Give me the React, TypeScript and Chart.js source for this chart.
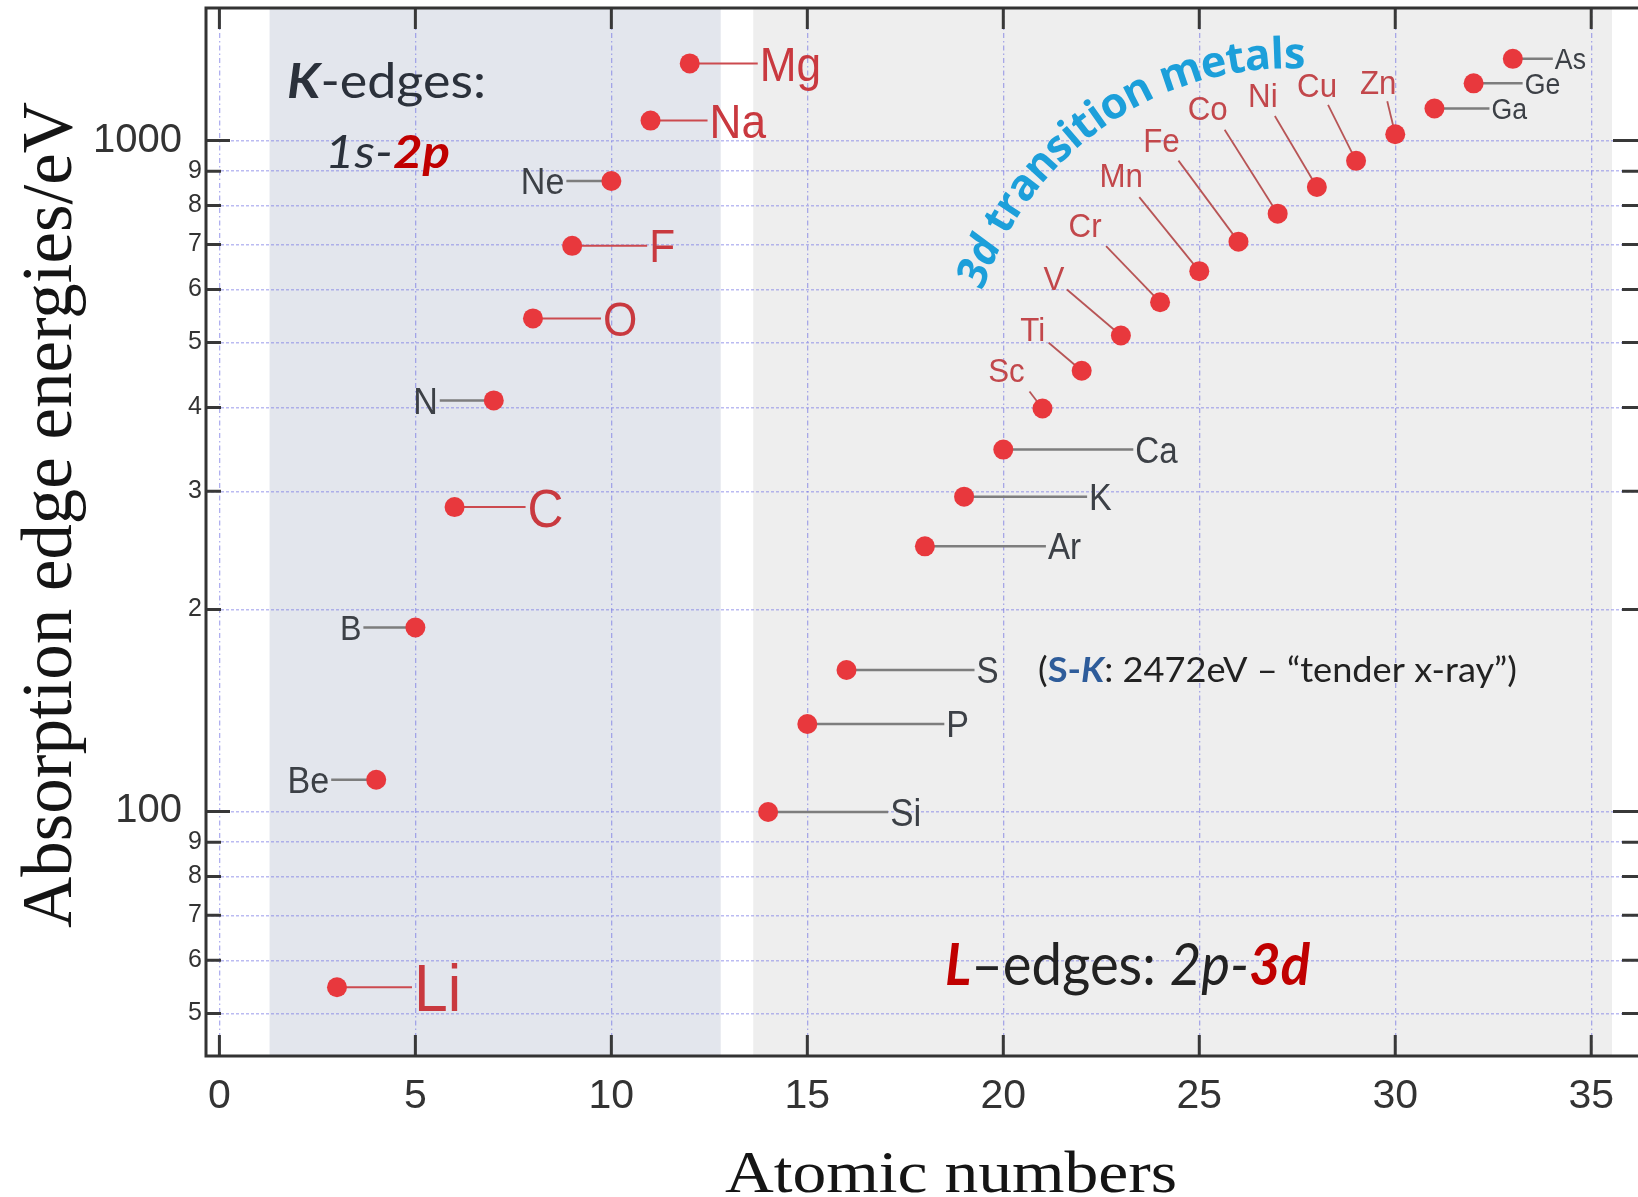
import React, { useEffect, useRef } from "react";
import { Chart, registerables } from "chart.js";

Chart.register(...registerables);

// ---------------- data ----------------
const K_SYMBOLS = ["Li", "Be", "B", "C", "N", "O", "F", "Ne", "Na", "Mg"];
const K_Z = [3, 4, 5, 6, 7, 8, 9, 10, 11, 12];
const K_EV = [54.7, 111.5, 188, 284.2, 409.9, 543.1, 696.7, 870.2, 1070.8, 1303];

const L_SYMBOLS = ["Si", "P", "S", "Ar", "K", "Ca", "Sc", "Ti", "V", "Cr", "Mn", "Fe", "Co", "Ni", "Cu", "Zn", "Ga", "Ge", "As"];
const L_Z = [14, 15, 16, 18, 19, 20, 21, 22, 23, 24, 25, 26, 27, 28, 29, 30, 31, 32, 33];
const L_EV = [99.8, 135, 162.5, 248.4, 294.6, 346.2, 398.7, 453.8, 512.1, 574.1, 638.7, 706.8, 778.1, 852.7, 932.7, 1021.8, 1116.4, 1217, 1323.6];

const X_TICKS = [0, 5, 10, 15, 20, 25, 30, 35];
const Y_TICKS = [50, 60, 70, 80, 90, 100, 200, 300, 400, 500, 600, 700, 800, 900, 1000];
const Y_MAJOR_TICKS = [100, 1000];

const X_LIMITS = [-0.342, 36.27];
const Y_LIMITS = [43.2, 1576];
const K_BAND = [1.28, 12.79];
const L_BAND = [13.62, 35.53];

const X_TITLE = "Atomic numbers";
const Y_TITLE = "Absorption edge energies/eV";

// ---------------- label layout (styles / offsets, px) ----------------
type LabelStyle = {
  side: "right" | "left" | "diag";
  len?: number;
  dx?: number;
  dy?: number;
  lx?: number;
  ly?: number;
  size: number;
  tone: "red" | "gray" | "diag";
};

const LABEL_LAYOUT: Record<string, LabelStyle> = {
  Li: { side: "right", len: 75, size: 66, tone: "red" },
  Be: { side: "left", len: 45, size: 37, tone: "gray" },
  B: { side: "left", len: 52, size: 35, tone: "gray" },
  C: { side: "right", len: 71, size: 54, tone: "red" },
  N: { side: "left", len: 54, size: 37, tone: "gray" },
  O: { side: "right", len: 68, size: 48, tone: "red" },
  F: { side: "right", len: 75, size: 46, tone: "red" },
  Ne: { side: "left", len: 45, size: 37, tone: "gray" },
  Na: { side: "right", len: 57, size: 48, tone: "red" },
  Mg: { side: "right", len: 68, size: 48, tone: "red" },
  Si: { side: "right", len: 120, size: 38, tone: "gray" },
  P: { side: "right", len: 137, size: 37, tone: "gray" },
  S: { side: "right", len: 128, size: 36, tone: "gray" },
  Ar: { side: "right", len: 121, size: 36, tone: "gray" },
  K: { side: "right", len: 123, size: 37, tone: "gray" },
  Ca: { side: "right", len: 130, size: 36, tone: "gray" },
  Sc: { side: "diag", dx: -36, dy: -39, lx: -13, ly: -17, size: 34, tone: "diag" },
  Ti: { side: "diag", dx: -49, dy: -42, lx: -33, ly: -28, size: 34, tone: "diag" },
  V: { side: "diag", dx: -67, dy: -58, lx: -54, ly: -46, size: 34, tone: "diag" },
  Cr: { side: "diag", dx: -75, dy: -77, lx: -54, ly: -56, size: 34, tone: "diag" },
  Mn: { side: "diag", dx: -78, dy: -96, lx: -60, ly: -74, size: 34, tone: "diag" },
  Fe: { side: "diag", dx: -77, dy: -102, lx: -60, ly: -81, size: 34, tone: "diag" },
  Co: { side: "diag", dx: -70, dy: -106, lx: -53, ly: -84, size: 34, tone: "diag" },
  Ni: { side: "diag", dx: -54, dy: -92, lx: -42, ly: -71, size: 34, tone: "diag" },
  Cu: { side: "diag", dx: -39, dy: -76, lx: -28, ly: -56, size: 34, tone: "diag" },
  Zn: { side: "diag", dx: -17, dy: -52, lx: -8, ly: -33, size: 34, tone: "diag" },
  Ga: { side: "right", len: 55, size: 29, tone: "gray" },
  Ge: { side: "right", len: 49, size: 29, tone: "gray" },
  As: { side: "right", len: 40, size: 29, tone: "gray" },
};

const TONES = {
  red: { text: "#c9393f", line: "#cc4a4f", lw: 2 },
  gray: { text: "#3c4046", line: "#7d7d7d", lw: 2.5 },
  diag: { text: "#c2474b", line: "#b85556", lw: 1.8 },
};

type Seg = { t: string; w: string; s: string; c: string };
const DARK = "#2b313b";
const RED = "#c00000";
const BLUE = "#2e5c9a";

const NOTES: { segs: Seg[]; x: number; y: number; size: number; width: number }[] = [
  {
    segs: [
      { t: "K", w: "bold", s: "italic", c: DARK },
      { t: "-edges:", w: "normal", s: "normal", c: DARK },
    ],
    x: 287, y: 98, size: 48, width: 199,
  },
  {
    segs: [
      { t: "1s-", w: "normal", s: "italic", c: DARK },
      { t: "2p", w: "bold", s: "italic", c: RED },
    ],
    x: 325, y: 168, size: 46, width: 125,
  },
  {
    segs: [
      { t: "L", w: "bold", s: "italic", c: RED },
      { t: "\u2013edges: ", w: "normal", s: "normal", c: "#222" },
      { t: "2p-", w: "normal", s: "italic", c: "#222" },
      { t: "3d", w: "bold", s: "italic", c: RED },
    ],
    x: 945, y: 985, size: 58, width: 365,
  },
  {
    segs: [
      { t: "(", w: "normal", s: "normal", c: "#222" },
      { t: "S-", w: "bold", s: "normal", c: BLUE },
      { t: "K", w: "bold", s: "italic", c: BLUE },
      { t: ": 2472eV \u2013 \u201Ctender x-ray\u201D)", w: "normal", s: "normal", c: "#222" },
    ],
    x: 1038, y: 682, size: 35, width: 479,
  },
];

const ARC_SEGS: Seg[] = [
  { t: "3d", w: "bold", s: "italic", c: "#1c9fda" },
  { t: " transition metals", w: "bold", s: "normal", c: "#1c9fda" },
];
const ARC = { cx: 1290, cy: 392, r: 336, a0: -159.5, a1: -89.2 };
const ARC_FONT = "'Open Sans', Lato, sans-serif";

const SANS = "'Liberation Sans', Arial, sans-serif";
const NOTE_FONT = "Lato, 'Open Sans', sans-serif";
const SERIF = "'Liberation Serif', 'DejaVu Serif', serif";
const SX = 0.92;

function fontOf(sg: Seg, size: number, fam: string) {
  return `${sg.s} ${sg.w} ${size}px ${fam}`;
}

function drawRich(ctx: CanvasRenderingContext2D, segs: Seg[], x: number, y: number, size: number, width: number) {
  const ws = segs.map((sg) => {
    ctx.font = fontOf(sg, size, NOTE_FONT);
    return ctx.measureText(sg.t).width;
  });
  const total = ws.reduce((a, b) => a + b, 0);
  ctx.save();
  ctx.translate(x, y);
  ctx.scale(width / total, 1);
  ctx.textAlign = "left";
  ctx.textBaseline = "alphabetic";
  let cx = 0;
  segs.forEach((sg, i) => {
    ctx.font = fontOf(sg, size, NOTE_FONT);
    ctx.fillStyle = sg.c;
    ctx.fillText(sg.t, cx, 0);
    cx += ws[i];
  });
  ctx.restore();
}

function drawArcText(ctx: CanvasRenderingContext2D) {
  const measure = (size: number) => {
    const chars: { ch: string; sg: Seg; w: number }[] = [];
    ARC_SEGS.forEach((sg) => {
      ctx.font = fontOf(sg, size, ARC_FONT);
      for (const ch of sg.t) chars.push({ ch, sg, w: ctx.measureText(ch).width });
    });
    const centers: number[] = [];
    let acc = 0;
    chars.forEach((c) => {
      centers.push(acc + c.w / 2);
      acc += c.w;
    });
    return { chars, centers };
  };
  const probe = measure(40);
  const span0 = probe.centers[probe.centers.length - 1] - probe.centers[0];
  const arcLen = (ARC.r * Math.abs(ARC.a1 - ARC.a0) * Math.PI) / 180;
  const size = (40 * arcLen) / span0;
  const { chars, centers } = measure(size);
  const c0 = centers[0];
  const c1 = centers[centers.length - 1];
  chars.forEach((c, i) => {
    if (c.ch === " ") return;
    const deg = ARC.a0 + ((centers[i] - c0) / (c1 - c0)) * (ARC.a1 - ARC.a0);
    const rad = (deg * Math.PI) / 180;
    ctx.save();
    ctx.translate(ARC.cx + ARC.r * Math.cos(rad), ARC.cy + ARC.r * Math.sin(rad));
    ctx.rotate(rad + Math.PI / 2);
    ctx.font = fontOf(c.sg, size, ARC_FONT);
    ctx.fillStyle = c.sg.c;
    ctx.textAlign = "center";
    ctx.textBaseline = "middle";
    ctx.fillText(c.ch, 0, 0);
    ctx.restore();
  });
}

function drawCondensed(ctx: CanvasRenderingContext2D, text: string, x: number, y: number, align: CanvasTextAlign) {
  ctx.save();
  ctx.translate(x, y);
  ctx.scale(SX, 1);
  ctx.textAlign = align;
  ctx.textBaseline = "alphabetic";
  ctx.fillText(text, 0, 0);
  ctx.restore();
}

const ALL_SYMBOLS = [...K_SYMBOLS, ...L_SYMBOLS];
const ALL_Z = [...K_Z, ...L_Z];
const ALL_EV = [...K_EV, ...L_EV];

const edgePlugin = {
  id: "edgePlugin",
  beforeDraw(chart: any) {
    const { ctx, chartArea: a, scales } = chart;
    const x = scales.x;
    ctx.save();
    const band = (r: number[], color: string) => {
      const x0 = x.getPixelForValue(r[0]);
      const x1 = x.getPixelForValue(r[1]);
      ctx.fillStyle = color;
      ctx.fillRect(x0, a.top, x1 - x0, a.bottom - a.top);
    };
    band(K_BAND, "#e3e6ed");
    band(L_BAND, "#eeeeee");
    ctx.restore();
  },
  beforeDatasetsDraw(chart: any) {
    const { ctx, scales } = chart;
    ctx.save();
    ctx.lineCap = "butt";
    ALL_SYMBOLS.forEach((sym, i) => {
      const st = LABEL_LAYOUT[sym];
      if (!st) return;
      const px = scales.x.getPixelForValue(ALL_Z[i]);
      const py = scales.y.getPixelForValue(ALL_EV[i]);
      const tone = TONES[st.tone];
      ctx.strokeStyle = tone.line;
      ctx.lineWidth = tone.lw;
      ctx.beginPath();
      if (st.side === "right") {
        ctx.moveTo(px, py);
        ctx.lineTo(px + (st.len || 0), py);
      } else if (st.side === "left") {
        ctx.moveTo(px - (st.len || 0), py);
        ctx.lineTo(px, py);
      } else {
        ctx.moveTo(px + (st.lx || 0), py + (st.ly || 0));
        ctx.lineTo(px, py);
      }
      ctx.stroke();
    });
    ctx.restore();
  },
  afterDatasetsDraw(chart: any) {
    const { ctx, scales } = chart;
    ctx.save();
    ALL_SYMBOLS.forEach((sym, i) => {
      const st = LABEL_LAYOUT[sym];
      if (!st) return;
      const px = scales.x.getPixelForValue(ALL_Z[i]);
      const py = scales.y.getPixelForValue(ALL_EV[i]);
      const tone = TONES[st.tone];
      ctx.fillStyle = tone.text;
      ctx.font = `${st.size}px ${SANS}`;
      const capMid = 0.36 * st.size;
      if (st.side === "right") {
        drawCondensed(ctx, sym, px + (st.len || 0) + 2, py + capMid, "left");
      } else if (st.side === "left") {
        drawCondensed(ctx, sym, px - (st.len || 0) - 2, py + capMid, "right");
      } else {
        drawCondensed(ctx, sym, px + (st.dx || 0), py + (st.dy || 0) + capMid, "center");
      }
    });
    NOTES.forEach((n) => drawRich(ctx, n.segs, n.x, n.y, n.size, n.width));
    drawArcText(ctx);
    ctx.restore();
  },
  afterDraw(chart: any) {
    const { ctx, chartArea: a, scales } = chart;
    ctx.save();
    // inward ticks
    ctx.strokeStyle = "#383838";
    ctx.lineWidth = 3;
    ctx.beginPath();
    Y_TICKS.forEach((v) => {
      const y = scales.y.getPixelForValue(v);
      const len = Y_MAJOR_TICKS.includes(v) ? 24 : 15;
      ctx.moveTo(a.left, y);
      ctx.lineTo(a.left + len, y);
      ctx.moveTo(a.right, y);
      ctx.lineTo(a.right - len - 4, y);
    });
    X_TICKS.forEach((v) => {
      const x = scales.x.getPixelForValue(v);
      ctx.moveTo(x, a.bottom);
      ctx.lineTo(x, a.bottom - 21);
      ctx.moveTo(x, a.top);
      ctx.lineTo(x, a.top + 21);
    });
    ctx.stroke();
    // frame
    ctx.strokeStyle = "#333333";
    ctx.lineWidth = 3;
    ctx.strokeRect(a.left, a.top, a.right - a.left, a.bottom - a.top);

    // axis titles
    ctx.fillStyle = "#151515";
    ctx.textBaseline = "alphabetic";
    ctx.textAlign = "center";
    ctx.font = `72px ${SERIF}`;
    let w = ctx.measureText(Y_TITLE).width;
    ctx.save();
    ctx.translate(71, 515);
    ctx.rotate(-Math.PI / 2);
    ctx.scale(826 / w, 1);
    ctx.fillText(Y_TITLE, 0, 0);
    ctx.restore();

    ctx.font = `60px ${SERIF}`;
    w = ctx.measureText(X_TITLE).width;
    ctx.save();
    ctx.translate(951, 1192);
    ctx.scale(452 / w, 1);
    ctx.fillText(X_TITLE, 0, 0);
    ctx.restore();
    ctx.restore();
  },
};

export default function App() {
  const ref = useRef<HTMLCanvasElement | null>(null);
  useEffect(() => {
    if (!ref.current) return;
    const points = ALL_Z.map((z, i) => ({ x: z, y: ALL_EV[i] }));
    const chart = new Chart(ref.current, {
      type: "scatter",
      data: {
        datasets: [
          {
            label: "Absorption edges",
            data: points,
            backgroundColor: "#e8383d",
            borderWidth: 0,
            pointRadius: 10,
            pointHoverRadius: 10,
          },
        ],
      },
      options: {
        responsive: false,
        maintainAspectRatio: false,
        animation: false,
        events: [],
        layout: { autoPadding: false, padding: { top: 8, right: 0, bottom: 0, left: 0 } },
        plugins: { legend: { display: false }, tooltip: { enabled: false } },
        scales: {
          x: {
            type: "linear",
            min: X_LIMITS[0],
            max: X_LIMITS[1],
            afterBuildTicks: (scale: any) => {
              scale.ticks = X_TICKS.map((v) => ({ value: v }));
            },
            afterFit: (scale: any) => {
              scale.height = 141;
              scale.paddingLeft = 0;
              scale.paddingRight = 0;
              scale.paddingTop = 0;
              scale.paddingBottom = 0;
            },
            ticks: {
              autoSkip: false,
              maxRotation: 0,
              padding: 16,
              color: "#333",
              font: { family: SANS, size: 41 },
              callback: (v: any) => String(v),
            },
            grid: { color: "rgba(110,110,225,0.55)", lineWidth: 1.3, drawTicks: false },
            border: { display: false, dash: [5, 3, 1.5, 3] },
          },
          y: {
            type: "logarithmic",
            min: Y_LIMITS[0],
            max: Y_LIMITS[1],
            afterBuildTicks: (scale: any) => {
              scale.ticks = Y_TICKS.map((v) => ({ value: v }));
            },
            afterFit: (scale: any) => {
              scale.width = 206;
              scale.paddingLeft = 0;
              scale.paddingRight = 0;
              scale.paddingTop = 0;
              scale.paddingBottom = 0;
            },
            ticks: {
              autoSkip: false,
              padding: 4,
              color: "#333",
              font: (c: any) => ({
                family: SANS,
                size: c.tick && Y_MAJOR_TICKS.includes(c.tick.value) ? 40 : 25,
              }),
              callback: (v: any) => {
                const n = Number(v);
                if (Y_MAJOR_TICKS.includes(n)) return String(n) + "\u2002";
                const d = n >= 100 ? n / 100 : n / 10;
                return String(Math.round(d));
              },
            },
            grid: { color: "rgba(120,120,230,0.5)", lineWidth: 1.5, drawTicks: false },
            border: { display: false, dash: [3, 2] },
          },
        },
      },
      plugins: [edgePlugin],
    } as any);
    return () => chart.destroy();
  }, []);

  return (
    <div
      style={{
        position: "fixed",
        left: 0,
        top: 0,
        width: 1638,
        height: 1197,
        overflow: "hidden",
        background: "#ffffff",
      }}
    >
      <canvas ref={ref} width={1641} height={1197} style={{ display: "block" }} />
    </div>
  );
}
